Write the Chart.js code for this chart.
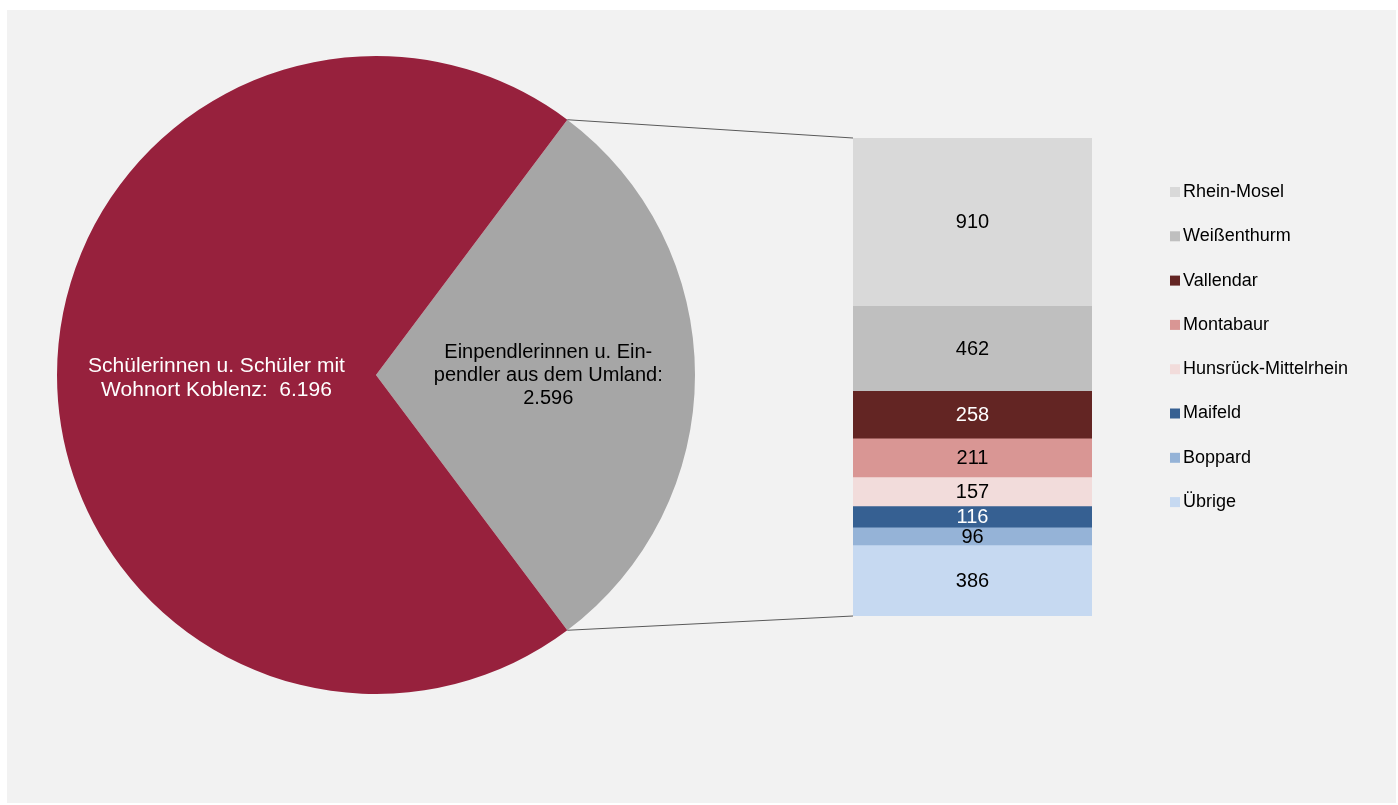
<!DOCTYPE html>
<html lang="de">
<head>
<meta charset="utf-8">
<title>Schülerinnen und Schüler nach Wohnort</title>
<script src="https://cdn.jsdelivr.net/npm/chart.js@4.4.1/dist/chart.umd.min.js"></script>
<style>
    html, body { margin: 0; padding: 0; background: #ffffff; }
    #frame { position: absolute; left: 7px; top: 10px; width: 1389px; height: 793px; background: #f2f2f2; }
    #pieCanvas { position: absolute; left: 57px; top: 56px; }
    #barCanvas { position: absolute; left: 540px; top: 0; }
</style>
</head>
<body>
<div id="frame"></div>
<canvas id="pieCanvas" width="638" height="638"></canvas>
<canvas id="barCanvas" width="858" height="805"></canvas>
<script>
// Pie: Umland first so the slice can be turned to face the bar
const pieLabels = ['Einpendlerinnen u. Einpendler aus dem Umland', 'Schülerinnen u. Schüler mit Wohnort Koblenz'];
const pieValues = [2596, 6196];
const pieColors = ['#a6a6a6', '#97213d'];
const pieTextLines = [
    ['Einpendlerinnen u. Ein-', 'pendler aus dem Umland:'],
    ['Schülerinnen u. Schüler mit', 'Wohnort Koblenz: ']
];
const pieTextColors = ['#000000', '#ffffff'];

// Bar: breakdown of the Umland slice, top to bottom
const barLabels = ['Rhein-Mosel', 'Weißenthurm', 'Vallendar', 'Montabaur', 'Hunsrück-Mittelrhein', 'Maifeld', 'Boppard', 'Übrige'];
const barValues = [910, 462, 258, 211, 157, 116, 96, 386];
const barColors = ['#d9d9d9', '#bfbfbf', '#632523', '#d99694', '#f2dcdb', '#366092', '#95b3d7', '#c6d9f1'];
const barTextColors = ['#000', '#000', '#fff', '#000', '#000', '#fff', '#000', '#000'];

const FONT = '"Liberation Sans", Arial, sans-serif';
const fmt = v => v.toLocaleString('de-DE');
const pieTotal = pieValues.reduce((a, b) => a + b, 0);
const barTotal = barValues.reduce((a, b) => a + b, 0);

const pieLabelPlugin = {
    id: 'pieLabels',
    afterDatasetsDraw(chart) {
        const ctx = chart.ctx;
        const dist = [0.54, 0.5];
        const shiftY = [0, 3];
        const size = [20, 21];
        const lh = [23, 24];
        ctx.save();
        ctx.textAlign = 'center';
        ctx.textBaseline = 'middle';
        chart.getDatasetMeta(0).data.forEach((arc, i) => {
            const mid = (arc.startAngle + arc.endAngle) / 2;
            const cx = arc.x + Math.cos(mid) * arc.outerRadius * dist[i];
            const cy = arc.y + Math.sin(mid) * arc.outerRadius * dist[i] + shiftY[i];
            const lines = pieTextLines[i].slice();
            if (i === 0) lines.push(fmt(pieValues[i]));
            else lines[lines.length - 1] += ' ' + fmt(pieValues[i]);
            ctx.font = size[i] + 'px ' + FONT;
            ctx.fillStyle = pieTextColors[i];
            lines.forEach((t, k) => {
                ctx.fillText(t, cx, cy + (k - (lines.length - 1) / 2) * lh[i]);
            });
        });
        ctx.restore();
    }
};

const pieChart = new Chart(document.getElementById('pieCanvas'), {
    type: 'pie',
    data: {
        labels: pieLabels,
        datasets: [{ data: pieValues, backgroundColor: pieColors, borderWidth: 0 }]
    },
    options: {
        responsive: false,
        animation: false,
        rotation: 90 - (pieValues[0] / pieTotal * 360) / 2,
        layout: { padding: 0 },
        plugins: { legend: { display: false }, tooltip: { enabled: false } }
    },
    plugins: [pieLabelPlugin]
});

const barExtras = {
    id: 'barExtras',
    afterDatasetsDraw(chart) {
        const ctx = chart.ctx;
        ctx.save();

        // value labels inside the segments
        ctx.font = '20px ' + FONT;
        ctx.textAlign = 'center';
        ctx.textBaseline = 'middle';
        barValues.forEach((v, i) => {
            const bar = chart.getDatasetMeta(i).data[0];
            ctx.fillStyle = barTextColors[i];
            ctx.fillText(fmt(v), bar.x, (bar.y + bar.base) / 2 + 1);
        });

        // connector lines from the pie slice to the bar
        const pieBox = pieChart.canvas.getBoundingClientRect();
        const barBox = chart.canvas.getBoundingClientRect();
        const arc = pieChart.getDatasetMeta(0).data[0];
        const toLocal = a => ({
            x: pieBox.left - barBox.left + arc.x + Math.cos(a) * arc.outerRadius,
            y: pieBox.top - barBox.top + arc.y + Math.sin(a) * arc.outerRadius
        });
        const first = chart.getDatasetMeta(0).data[0];
        const last = chart.getDatasetMeta(barValues.length - 1).data[0];
        const left = first.x - first.width / 2;
        const p1 = toLocal(arc.startAngle);
        const p2 = toLocal(arc.endAngle);
        ctx.strokeStyle = '#595959';
        ctx.lineWidth = 1;
        ctx.beginPath();
        ctx.moveTo(p1.x, p1.y);
        ctx.lineTo(left, Math.min(first.y, first.base));
        ctx.moveTo(p2.x, p2.y);
        ctx.lineTo(left, Math.max(last.y, last.base));
        ctx.stroke();

        // legend
        const boxX = 630, top = 192, step = 44.3;
        ctx.font = '18px ' + FONT;
        ctx.textAlign = 'left';
        barLabels.forEach((label, i) => {
            const y = top + i * step;
            ctx.fillStyle = barColors[i];
            ctx.fillRect(boxX, y - 5, 10, 10);
            ctx.fillStyle = '#000';
            ctx.fillText(label, boxX + 13, y);
        });
        ctx.restore();
    }
};

const barChart = new Chart(document.getElementById('barCanvas'), {
    type: 'bar',
    data: {
        labels: ['Umland'],
        datasets: barLabels.map((label, i) => ({
            label: label,
            data: [barValues[i]],
            backgroundColor: barColors[i],
            borderWidth: 0,
            categoryPercentage: 1,
            barPercentage: 1
        }))
    },
    options: {
        responsive: false,
        animation: false,
        layout: { padding: { left: 313, right: 306, top: 138, bottom: 189 } },
        scales: {
            x: { stacked: true, display: false },
            y: { stacked: true, display: false, reverse: true, min: 0, max: barTotal }
        },
        plugins: { legend: { display: false }, tooltip: { enabled: false } }
    },
    plugins: [barExtras]
});
</script>
</body>
</html>
